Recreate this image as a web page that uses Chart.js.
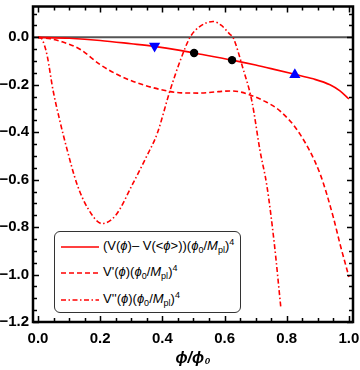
<!DOCTYPE html>
<html><head><meta charset="utf-8">
<script src="https://cdn.jsdelivr.net/npm/chart.js@4/dist/chart.umd.min.js"></script>
<style>
html,body{margin:0;padding:0;background:#fff;}
#wrap{position:relative;width:360px;height:370px;}
#legend{position:absolute;left:54px;top:231px;width:187px;height:82px;border:1px solid #333;border-radius:6px;background:#fff;box-sizing:border-box;font:13px "Liberation Sans",Arial,sans-serif;color:#000;}
.row{position:absolute;left:0;height:16px;line-height:16px;white-space:nowrap;}
.row svg{position:absolute;left:5px;top:7px;}
.row span.t{position:absolute;left:48px;top:0;}
sub{font-size:9px;vertical-align:-3px;line-height:0;}
sup{font-size:9px;vertical-align:5px;line-height:0;}
i{font-style:italic;}
</style>
</head><body>
<div id="wrap">
<canvas id="c" width="360" height="370"></canvas>
<div id="legend">
 <div class="row" style="top:6px"><svg width="40" height="4"><line x1="1" y1="2" x2="39" y2="2" stroke="#ff0000" stroke-width="1.5"/></svg><span class="t">(V(<i>ϕ</i>)– V(&lt;<i>ϕ</i>&gt;))(<i>ϕ</i><sub>0</sub>/<i>M</i><sub>pl</sub>)<sup>4</sup></span></div>
 <div class="row" style="top:32px"><svg width="40" height="4"><line x1="1" y1="2" x2="39" y2="2" stroke="#ff0000" stroke-width="1.5" stroke-dasharray="5,3"/></svg><span class="t">V'(<i>ϕ</i>)(<i>ϕ</i><sub>0</sub>/<i>M</i><sub>pl</sub>)<sup>4</sup></span></div>
 <div class="row" style="top:59px"><svg width="40" height="4"><line x1="1" y1="2" x2="39" y2="2" stroke="#ff0000" stroke-width="1.5" stroke-dasharray="5,2.5,1.5,2.5"/></svg><span class="t">V''(<i>ϕ</i>)(<i>ϕ</i><sub>0</sub>/<i>M</i><sub>pl</sub>)<sup>4</sup></span></div>
</div>
</div>
<script>
// ---- data ----
const phiV   = [0, 0.1, 0.2, 0.3, 0.373, 0.457, 0.502, 0.624, 0.7, 0.756, 0.826, 0.885, 0.939, 0.97, 1.0];
const valV   = [0, -0.004, -0.013, -0.027, -0.038, -0.055, -0.066, -0.096, -0.117, -0.134, -0.156, -0.175, -0.200, -0.225, -0.26];

const phiD1  = [0, 0.04, 0.08, 0.135, 0.2, 0.26, 0.328, 0.415, 0.46, 0.52, 0.58, 0.617, 0.65, 0.682, 0.73, 0.778, 0.842, 0.907, 0.95, 0.971, 1.0];
const valD1  = [0, -0.006, -0.02, -0.05, -0.115, -0.16, -0.196, -0.226, -0.234, -0.235, -0.229, -0.226, -0.23, -0.243, -0.27, -0.31, -0.407, -0.575, -0.76, -0.87, -1.01];

const phiD2  = [0, 0.01, 0.02, 0.03, 0.048, 0.07, 0.093, 0.125, 0.16, 0.206, 0.25, 0.305, 0.35, 0.383, 0.424, 0.457, 0.489, 0.52, 0.563, 0.59, 0.617, 0.627, 0.659, 0.688, 0.714, 0.736, 0.76, 0.781];
const valD2  = [0, -0.003, -0.03, -0.08, -0.22, -0.35, -0.47, -0.617, -0.72, -0.785, -0.75, -0.617, -0.5, -0.407, -0.227, -0.10, 0, 0.045, 0.067, 0.05, 0.013, 0, -0.13, -0.27, -0.478, -0.625, -0.87, -1.14];

const dotPhi  = [0.502, 0.624];
const dotVal  = [-0.066, -0.096];
const upPhi   = [0.826];
const upVal   = [-0.158];
const downPhi = [0.375];
const downVal = [-0.036];

const xTickVals = [0, 0.2, 0.4, 0.6, 0.8, 1.0];
const yTickVals = [0, -0.2, -0.4, -0.6, -0.8, -1.0, -1.2];

const X_MIN = -0.016, X_MAX = 1.013, Y_MIN = -1.2, Y_MAX = 0.13;

const pts = (xs, ys) => xs.map((x, i) => ({x: x, y: ys[i]}));
const fmt = v => (Math.abs(v) < 1e-9 ? '0.0' : v.toFixed(1).replace('-', '\u2212'));

const framePlugin = {
  id: 'frame',
  beforeDatasetsDraw(chart) {
    const {ctx, chartArea: a, scales: {x, y}} = chart;
    const y0 = y.getPixelForValue(0);
    ctx.save();
    ctx.strokeStyle = '#555555';
    ctx.lineWidth = 2;
    ctx.beginPath();
    ctx.moveTo(a.left, y0); ctx.lineTo(a.right, y0);
    ctx.stroke();
    ctx.restore();
  },
  afterDraw(chart) {
    const {ctx, chartArea: a, scales: {x, y}} = chart;
    const isMajor = v => Math.abs(v / 0.2 - Math.round(v / 0.2)) < 1e-6;
    ctx.save();
    ctx.strokeStyle = '#000';
    ctx.lineWidth = 1.5;
    ctx.beginPath();
    for (let k = 0; k <= 20; k++) {
      const v = k * 0.05;
      const px = Math.round(x.getPixelForValue(v)) + 0.5;
      const len = isMajor(v) ? 6 : 4;
      ctx.moveTo(px, a.bottom); ctx.lineTo(px, a.bottom - len);
      ctx.moveTo(px, a.top); ctx.lineTo(px, a.top + len);
    }
    for (let k = -24; k <= 2; k++) {
      const v = k * 0.05;
      const py = Math.round(y.getPixelForValue(v)) + 0.5;
      const len = isMajor(v) ? 6 : 4;
      ctx.moveTo(a.left, py); ctx.lineTo(a.left + len, py);
      ctx.moveTo(a.right, py); ctx.lineTo(a.right - len, py);
    }
    ctx.stroke();
    ctx.lineWidth = 2.5;
    ctx.strokeRect(a.left, a.top, a.right - a.left, a.bottom - a.top);
    ctx.restore();
  }
};

const RED = '#ff0000';
const FONT = '"Liberation Sans", Arial, sans-serif';
new Chart(document.getElementById('c'), {
  type: 'line',
  data: {
    datasets: [
      {type: 'scatter', data: pts(dotPhi, dotVal), pointRadius: 4.2, pointBackgroundColor: '#000', pointBorderWidth: 0, showLine: false},
      {type: 'scatter', data: pts(upPhi, upVal), pointStyle: 'triangle', pointRadius: 6.5, pointBackgroundColor: '#0000ff', pointBorderColor: '#0000ff', pointBorderWidth: 0, showLine: false},
      {type: 'scatter', data: pts(downPhi, downVal), pointStyle: 'triangle', rotation: 180, pointRotation: 180, pointRadius: 6.5, pointBackgroundColor: '#0000ff', pointBorderColor: '#0000ff', pointBorderWidth: 0, showLine: false},
      {data: pts(phiV, valV), borderColor: RED, borderWidth: 1.6, pointRadius: 0, cubicInterpolationMode: 'monotone', fill: false},
      {data: pts(phiD1, valD1), borderColor: RED, borderWidth: 1.6, borderDash: [5, 3], pointRadius: 0, cubicInterpolationMode: 'monotone', fill: false},
      {data: pts(phiD2, valD2), borderColor: RED, borderWidth: 1.6, borderDash: [5, 2.5, 1.5, 2.5], pointRadius: 0, cubicInterpolationMode: 'monotone', fill: false}
    ]
  },
  options: {
    responsive: false,
    animation: false,
    devicePixelRatio: 1,
    layout: {padding: {top: 5, right: 7, left: 0, bottom: 0}},
    plugins: {legend: {display: false}, tooltip: {enabled: false}},
    scales: {
      x: {
        type: 'linear', min: X_MIN, max: X_MAX,
        grid: {display: false, drawTicks: false},
        border: {display: false},
        afterBuildTicks: s => { s.ticks = xTickVals.map(v => ({value: v})); },
        afterFit: s => { s.height = 48; s.paddingLeft = 0; s.paddingRight = 0; },
        ticks: {color: '#000', padding: 8, maxRotation: 0, autoSkip: false,
                font: {family: FONT, size: 15, weight: 'bold'},
                callback: v => fmt(v)},
        title: {display: true, text: 'ϕ/ϕ₀', color: '#000', padding: {top: 0, bottom: 2},
                font: {family: FONT, size: 16, weight: 'bold', style: 'italic'}}
      },
      y: {
        type: 'linear', min: Y_MIN, max: Y_MAX,
        grid: {display: false, drawTicks: false},
        border: {display: false},
        afterBuildTicks: s => { s.ticks = yTickVals.map(v => ({value: v})); },
        afterFit: s => { s.width = 33; s.paddingTop = 0; s.paddingBottom = 0; },
        ticks: {color: '#000', padding: 4, autoSkip: false,
                font: {family: FONT, size: 15, weight: 'bold'},
                callback: v => fmt(v)}
      }
    }
  },
  plugins: [framePlugin]
});
</script>
</body></html>
